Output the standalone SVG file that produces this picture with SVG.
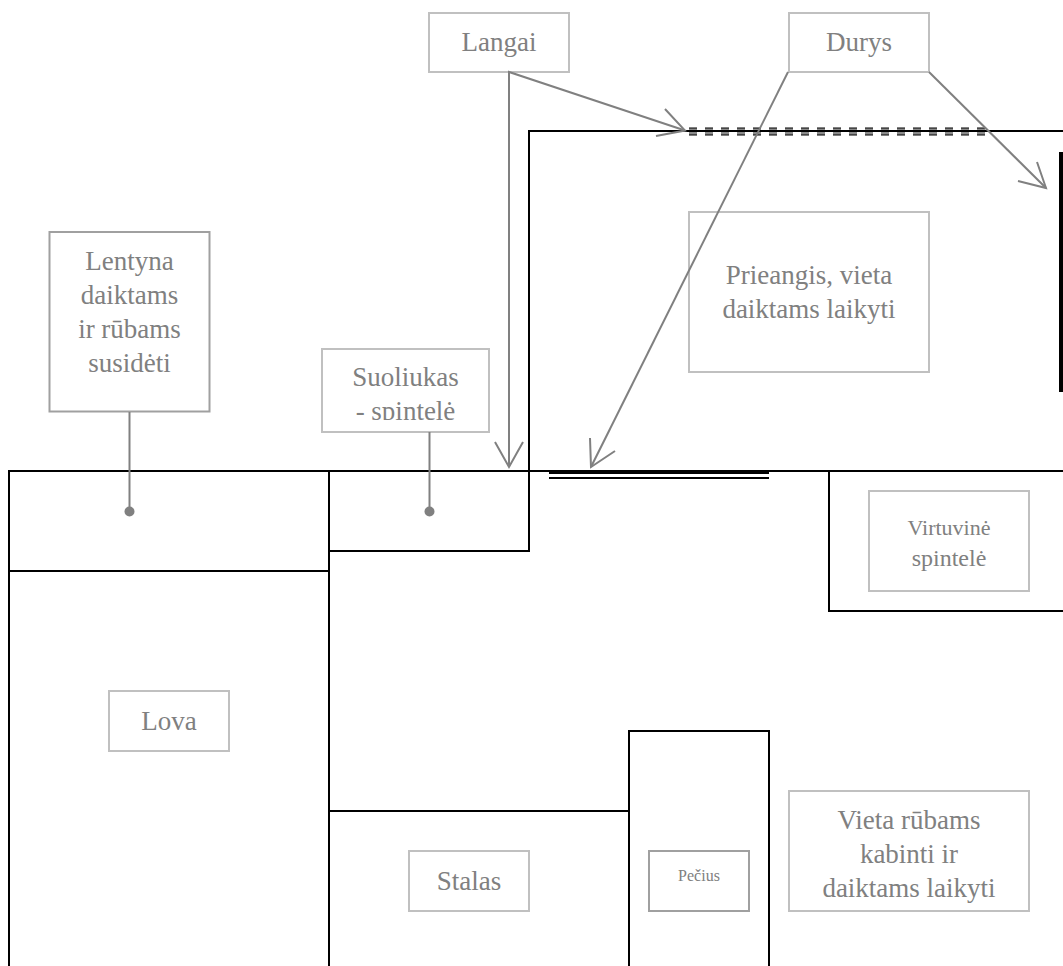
<svg xmlns="http://www.w3.org/2000/svg" width="1063" height="966" viewBox="0 0 1063 966">
<style>
.wall{fill:none;stroke:#000;stroke-width:2}
.box{fill:#fff;stroke:#c0c0c0;stroke-width:2}
.box2{fill:#fff;stroke:#a0a0a0;stroke-width:2}
.lead{fill:none;stroke:#808080;stroke-width:2}
text{font-family:"Liberation Serif","Times New Roman",serif;fill:#808080;text-anchor:middle}
.t{font-size:27px}
.m{font-size:24px}
.s{font-size:16px}
</style>
<defs>
<clipPath id="clipS"><rect x="323" y="349" width="165" height="71"/></clipPath>
</defs>
<rect width="1063" height="966" fill="#fff"/>
<g id="walls">
<path class="wall" d="M9 966V471H1063"/>
<path class="wall" d="M9 571H329"/>
<path class="wall" d="M329 966V471"/>
<path class="wall" d="M329 551H529V131H1063"/>
<path class="wall" d="M329 811H629"/>
<path class="wall" d="M629 966V731H769V966"/>
<path class="wall" d="M1063 611H829V471"/>
<rect x="1059" y="152" width="4" height="240" fill="#000"/>
<rect x="549" y="471" width="220" height="3" fill="#000"/>
<rect x="549" y="477" width="220" height="2" fill="#000"/>
<path d="M689 131.500H986" fill="none" stroke="#8c8c8c" stroke-width="7" stroke-dasharray="8 8"/>
<path d="M689 128H986M689 135H986" fill="none" stroke="#000" stroke-width="1" stroke-dasharray="8 8"/>
<path d="M689 131H986" fill="none" stroke="#000" stroke-width="2"/>
</g>
<g id="n-langai"><rect class="box" x="429" y="13" width="140" height="59"/><text class="t" x="499" y="51">Langai</text></g>
<g id="n-durys"><rect class="box" x="789" y="13" width="140" height="59"/><text class="t" x="859" y="51">Durys</text></g>
<g id="n-lentyna"><rect class="box2" x="49.500" y="232" width="160" height="179.500"/><text class="t" x="129.500" y="270">Lentyna</text><text class="t" x="129.500" y="304">daiktams</text><text class="t" x="129.500" y="338">ir rūbams</text><text class="t" x="129.500" y="372">susidėti</text></g>
<g id="n-suoliukas"><rect class="box" x="322" y="349" width="167" height="83"/><g clip-path="url(#clipS)"><text class="t" x="405.500" y="386">Suoliukas</text><text class="t" x="405.500" y="420">- spintelė</text></g></g>
<g id="n-prieangis"><rect class="box" x="689" y="212" width="240" height="160"/><text class="t" x="809" y="284">Prieangis, vieta</text><text class="t" x="809" y="318">daiktams laikyti</text></g>
<g id="n-virtuvine"><rect class="box" x="869" y="491" width="160" height="100"/><text class="m" x="949" y="535" style="font-size:22px">Virtuvinė</text><text class="m" x="949" y="566">spintelė</text></g>
<g id="n-lova"><rect class="box" x="109" y="691" width="120" height="60"/><text class="t" x="169" y="730">Lova</text></g>
<g id="n-stalas"><rect class="box" x="409" y="851" width="120" height="60"/><text class="t" x="469" y="890">Stalas</text></g>
<g id="n-pecius"><rect class="box2" x="649" y="851" width="100" height="60"/><text class="s" x="699" y="881">Pečius</text></g>
<g id="n-vieta"><rect class="box" x="789" y="791" width="240" height="120"/><text class="t" x="909" y="829">Vieta rūbams</text><text class="t" x="909" y="863">kabinti ir</text><text class="t" x="909" y="897">daiktams laikyti</text></g>
<g id="connectors">
<path class="lead" d="M129.500 412V511"/><circle cx="129.500" cy="511.500" r="5" fill="#808080"/>
<path class="lead" d="M429.500 432V511"/><circle cx="429.500" cy="511.500" r="5" fill="#808080"/>
<path class="lead" d="M509 467V72L685 130.500"/>
<path class="lead" d="M495 442L509 467L523 442M665 109L685 130.500L656 136"/>
<path class="lead" d="M788 72L591 467"/>
<path class="lead" d="M590 438L591 467L615 451"/>
<path class="lead" d="M929 72L1046 188"/>
<path class="lead" d="M1037 162L1046 188L1018 181"/>
</g>
</svg>
